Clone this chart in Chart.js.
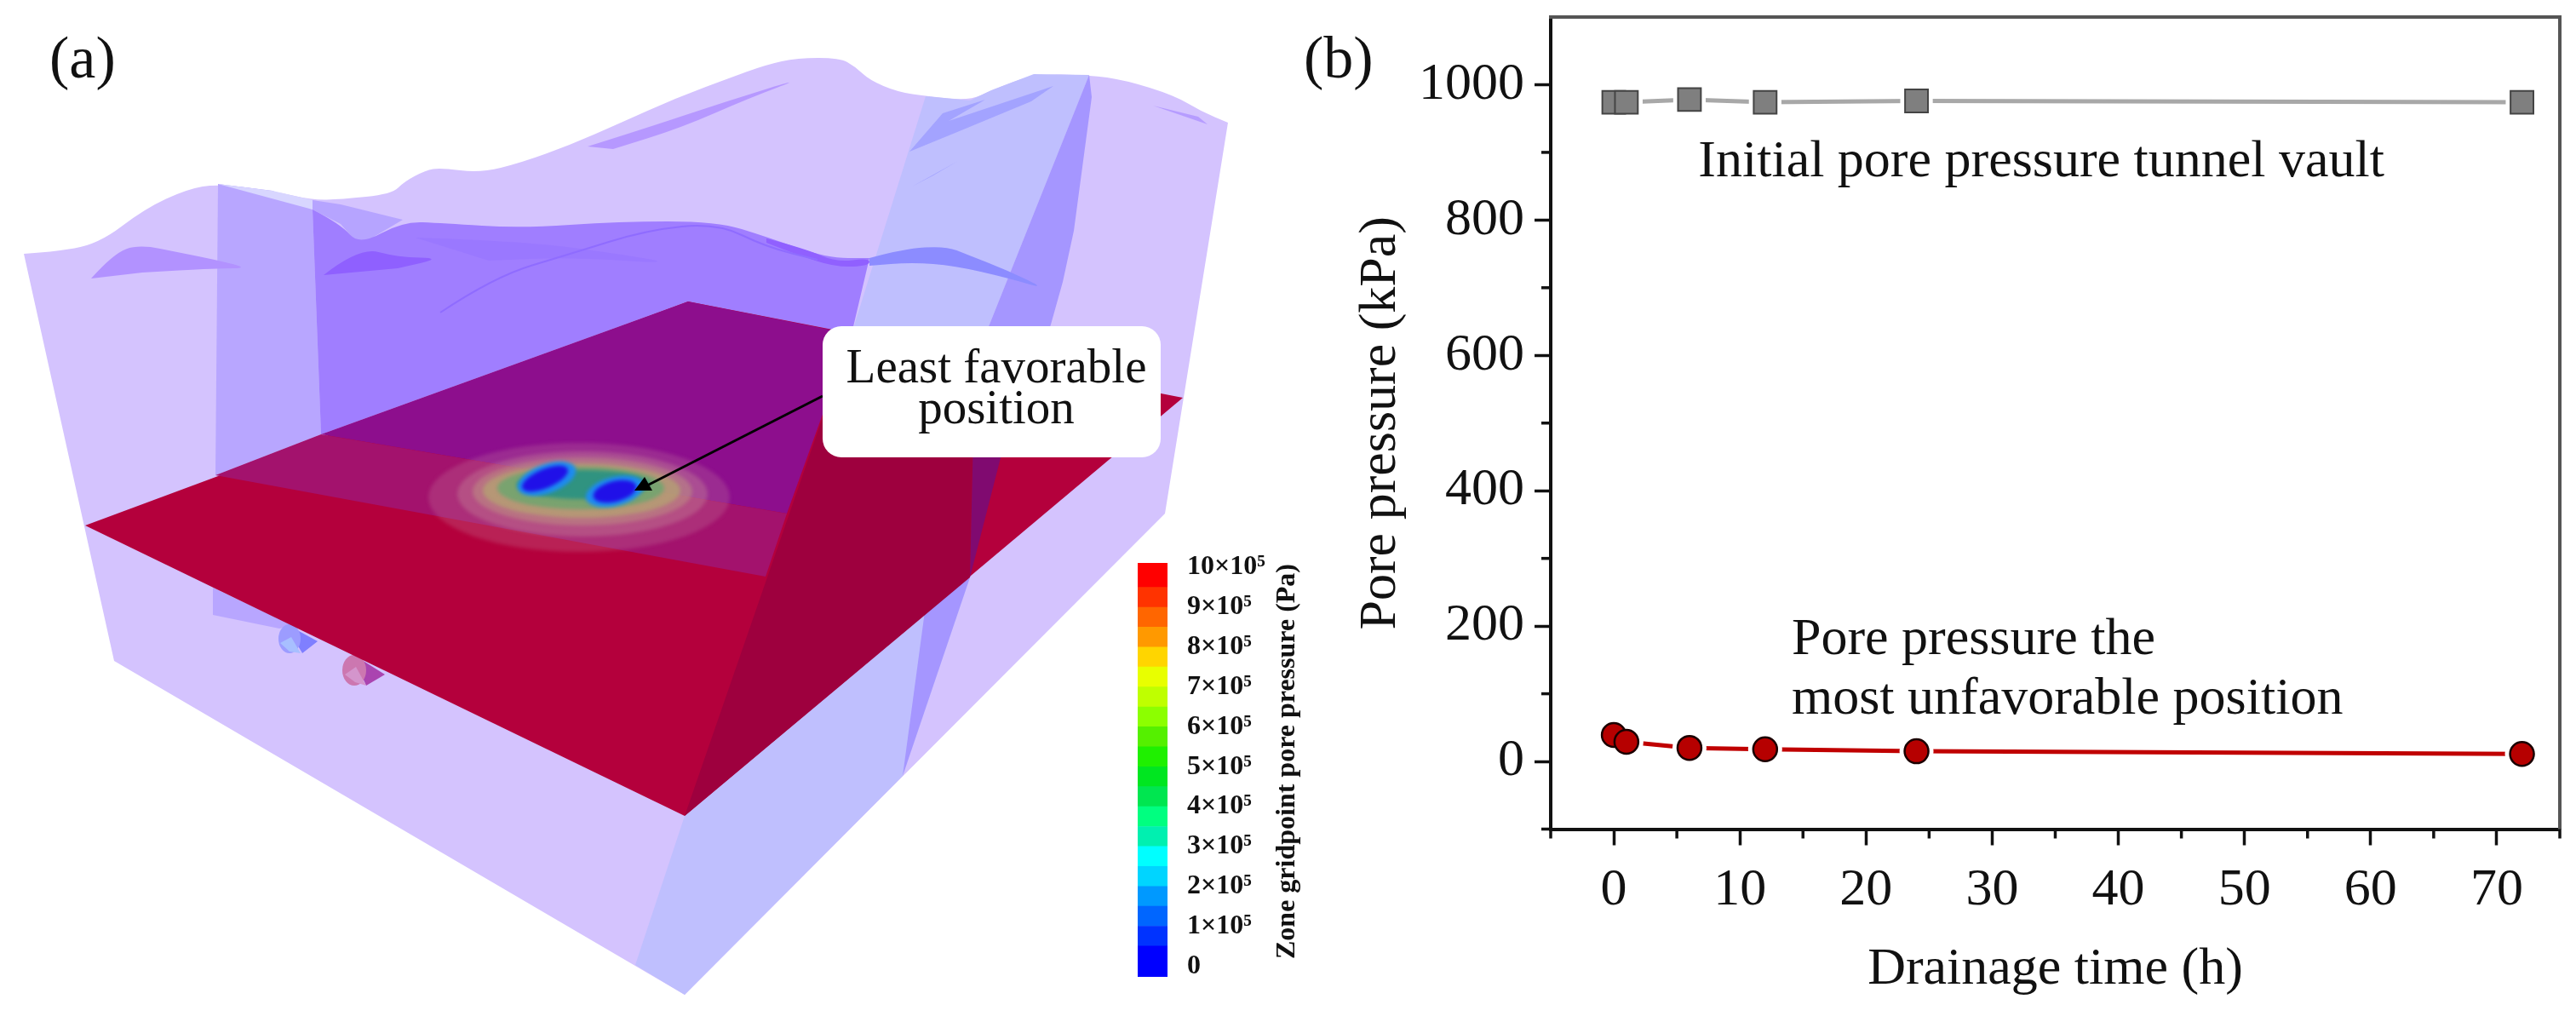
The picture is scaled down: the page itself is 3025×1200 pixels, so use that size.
<!DOCTYPE html>
<html>
<head>
<meta charset="utf-8">
<title>Pore pressure</title>
<script src="https://cdn.jsdelivr.net/npm/chart.js@4"></script>
<style>
    body { margin: 0; background: #fff; }
    #page { position: relative; width: 3025px; height: 1200px; overflow: hidden; }
    canvas { position: absolute; }
    .panel { position: absolute; top: 28px; font: 70px "Liberation Serif"; color: #111; }
</style>
</head>
<body>
<div id="page">
    <canvas id="sceneChart" width="1500" height="1200" style="left:0;top:0"></canvas>
    <canvas id="barChart" width="260" height="530" style="left:1300px;top:640px"></canvas>
    <canvas id="pressureChart" width="1465" height="1200" style="left:1560px;top:0"></canvas>
    <div class="panel" style="left:58px">(a)</div>
    <div class="panel" style="left:1531px">(b)</div>
</div>
<script>
// panel b data
const drainageHours = [0, 1, 6, 12, 24, 72];
const vaultPressure = [974, 974, 978, 974, 976, 974];
const unfavorablePressure = [39, 29, 20, 18, 15, 11];
const xTickValues = [0, 10, 20, 30, 40, 50, 60, 70];
const xMinorTicks = [-5, 5, 15, 25, 35, 45, 55, 65, 75];
const yTickValues = [0, 200, 400, 600, 800, 1000];
const yMinorTicks = [-100, 100, 300, 500, 700, 900];

// panel a colour bar
const barLabels = ["0", "1×10⁵", "2×10⁵", "3×10⁵", "4×10⁵", "5×10⁵", "6×10⁵", "7×10⁵", "8×10⁵", "9×10⁵", "10×10⁵"];
const barEdges = [-0.27, 0.5, 1, 1.5, 2, 2.5, 3, 3.5, 4, 4.5, 5, 5.5, 6, 6.5, 7, 7.5, 8, 8.5, 9, 9.5, 10.11];
const barColors = ["#0000ff", "#0033ff", "#0066ff", "#0099ff", "#00d5ff", "#00ffff", "#00f0b0", "#00ff80", "#00e650", "#00e620",
    "#1ff000", "#55f000", "#8cff00", "#bfff00", "#e8ff00", "#ffd500", "#ff9900", "#ff6600", "#ff3300", "#ff0000"];

// panel a outlines, in picture pixels
const ridgeLine = [[28,298],[60,296],[115,287],[170,245],[220,222],[256,216],[320,224],[367,235],[400,234],[460,228],[475,213],[500,200],[517,197],[564,203],[612,191],[670,170],[727,145],[794,115],[861,90],[900,76],[936,68],[986,68],[1004,78],[1021,94],[1054,108],[1089,113],[1139,118],[1164,106],[1214,87],[1279,88],[1321,94],[1379,112],[1411,131],[1442,144]];
const bodyEdge = [[1368,603],[804,1168],[134,776]];
const leftBand = [[256,216],[320,224],[367,246],[377,510],[253,558]];
const leftBandLow = [[250,690],[250,722],[328,738],[345,735]];
const paleStrip = [[256,216],[320,224],[367,235],[367,246]];
const midStrip = [[367,235],[400,240],[473,258],[422,288],[400,263],[367,246]];
const backTop = [[367,246],[400,263],[422,288],[473,260],[520,262],[612,268],[727,260],[842,260],[900,278],[971,303],[1021,303]];
const backLow = [[1000,392],[808,354],[377,510]];
const blueBand = [[1087,113],[1139,118],[1164,106],[1214,87],[1279,88],[1162,381],[1145,425],[1000,392]];
const blueBandLow = [[804,958],[746,1133],[804,1168],[1060,911],[1139,678]];
const darkBand = [[1279,88],[1282,114],[1261,271],[1248,331],[1234,381],[1200,470],[1141,425],[1162,381]];
const darkBandLow = [[1086,718],[1060,911],[1139,678]];
const streakA = [[107,327],[133,298],[163,287],[213,297],[253,305],[293,315],[253,315],[167,320]];
const streakB = [[380,323],[422,290],[467,302],[520,303],[467,315]];
const streakC = [[690,172],[760,150],[850,120],[947,90],[880,115],[800,150],[720,175]];
const streakD = [[488,279],[612,283],[727,298],[794,310],[670,302],[574,306]];
const streakE = [[1021,303],[1061,292],[1111,289],[1136,299],[1182,317],[1230,340],[1182,326],[1121,312],[1071,308],[1021,312]];
const streakF = [[900,280],[946,292],[982,308],[1021,303],[1021,312],[982,314],[936,299],[900,285]];
const streakG = [[1068,178],[1107,133],[1157,117],[1114,142],[1237,101],[1211,119],[1129,153]];
const streakH = [[1071,219],[1125,189],[1096,206]];
const streakI = [[1354,124],[1418,146],[1407,137]];
const waveLine = [[517,367],[580,325],[670,298],[760,270],[842,262],[900,290],[960,305]];
const plane = [[100,617],[808,354],[1389,467],[804,958]];
const planePurple = [[377,510],[808,354],[1000,392],[924,603]];
const planeStrip = [[253,558],[377,510],[924,603],[899,677]];
const planeDark = [[1000,392],[1145,425],[1139,678],[804,958]];
const planeDarkStrip = [[1145,425],[1200,440],[1139,678]];
const tunnelWedgeA = [[340,735],[373,753],[355,767],[345,750]];
const tunnelWedgeB = [[417,770],[452,792],[430,805],[422,787]];
const tunnelLightA = [[329,755],[342,748],[353,767],[340,765]];
const tunnelLightB = [[405,792],[418,783],[430,805],[417,801]];
// cx, cy, rx, ry, rotation, colour
const contours = [
    [680, 584, 177, 64, 0, "rgba(200,130,160,0.25)"],
    [684, 580, 147, 50, 0, "rgba(195,130,150,0.4)"],
    [684, 577, 129, 40, 0, "rgba(190,150,130,0.5)"],
    [683, 576, 116, 32, 0, "rgba(180,170,110,0.65)"],
    [682, 573, 98, 25, 0, "rgba(110,165,110,0.85)"],
    [685, 569, 78, 17, 0, "rgba(40,145,130,0.9)"],
    [642, 562, 36, 17, -0.35, "rgba(30,140,240,1)"],
    [722, 577, 35, 17, -0.25, "rgba(30,140,240,1)"],
    [640, 562, 29, 11, -0.4, "#2010e8"],
    [722, 577, 26, 12, -0.25, "#2010e8"]
];
const tunnels = [
    [340, 750, 13, 17, 0, "#9c9cff"],
    [416, 787, 14, 18, 0, "#cc77b0"]
];

const serif = '"Liberation Serif"';

function tracePath(ctx, chart, curved, straight) {
    const x = p => chart.scales.x.getPixelForValue(p[0]);
    const y = p => chart.scales.y.getPixelForValue(p[1]);
    ctx.beginPath();
    ctx.moveTo(x(curved[0]), y(curved[0]));
    for (let i = 1; i < curved.length - 1; i++) {
        const mx = (x(curved[i]) + x(curved[i + 1])) / 2;
        const my = (y(curved[i]) + y(curved[i + 1])) / 2;
        ctx.quadraticCurveTo(x(curved[i]), y(curved[i]), mx, my);
    }
    const last = curved[curved.length - 1];
    ctx.lineTo(x(last), y(last));
    (straight || []).forEach(p => ctx.lineTo(x(p), y(p)));
}

function fillStraight(ctx, chart, pts, color) {
    tracePath(ctx, chart, pts.slice(0, 1), pts.slice(1));
    ctx.closePath();
    ctx.fillStyle = color;
    ctx.fill();
}

function fillCurved(ctx, chart, pts, color) {
    tracePath(ctx, chart, pts);
    ctx.closePath();
    ctx.fillStyle = color;
    ctx.fill();
}

function fillEllipses(ctx, chart, list) {
    list.forEach(e => {
        ctx.beginPath();
        ctx.ellipse(chart.scales.x.getPixelForValue(e[0]), chart.scales.y.getPixelForValue(e[1]), e[2], e[3], e[4], 0, Math.PI * 2);
        ctx.fillStyle = e[5];
        ctx.fill();
    });
}

// the layout adds room for half a tick label at the axis ends, the picture has none
function noEndPadding(s) {
    s.paddingTop = 0;
    s.paddingBottom = 0;
    s.paddingLeft = 0;
    s.paddingRight = 0;
}

const scenePlugin = {
    id: "scene",
    beforeDatasetsDraw(chart) {
        const ctx = chart.ctx;
        ctx.save();
        tracePath(ctx, chart, ridgeLine, bodyEdge);
        ctx.closePath();
        ctx.fillStyle = "#d4c3fe";
        ctx.fill();

        fillStraight(ctx, chart, leftBand, "#b8a6ff");
        fillStraight(ctx, chart, leftBandLow, "#b8a6ff");
        fillStraight(ctx, chart, paleStrip, "#d8d6ff");
        fillStraight(ctx, chart, midStrip, "#b6a4ff");

        tracePath(ctx, chart, backTop, backLow);
        ctx.closePath();
        ctx.fillStyle = "#a07eff";
        ctx.fill();

        fillStraight(ctx, chart, blueBand, "#bfbffe");
        fillStraight(ctx, chart, blueBandLow, "#bfbffe");
        fillStraight(ctx, chart, darkBand, "#a596ff");
        fillStraight(ctx, chart, darkBandLow, "#a596ff");

        fillCurved(ctx, chart, streakA, "#b292ff");
        fillCurved(ctx, chart, streakB, "#8f60ff");
        fillCurved(ctx, chart, streakC, "#b698ff");
        fillCurved(ctx, chart, streakD, "#9a78ff");
        fillCurved(ctx, chart, streakE, "#8c8cff");
        fillCurved(ctx, chart, streakF, "#9060ff");
        fillStraight(ctx, chart, streakG, "#a3a3ff");
        fillStraight(ctx, chart, streakH, "#a3a3ff");
        fillStraight(ctx, chart, streakI, "#b69cff");

        tracePath(ctx, chart, waveLine);
        ctx.strokeStyle = "#8f6cff";
        ctx.lineWidth = 2;
        ctx.stroke();

        fillStraight(ctx, chart, tunnelWedgeA, "#7f7fff");
        fillStraight(ctx, chart, tunnelWedgeB, "#aa44b0");
        fillEllipses(ctx, chart, tunnels);
        fillStraight(ctx, chart, tunnelLightA, "#a8bfff");
        fillStraight(ctx, chart, tunnelLightB, "#d495cc");

        fillStraight(ctx, chart, plane, "#b4003c");
        fillStraight(ctx, chart, planePurple, "#8d0e8d");
        fillStraight(ctx, chart, planeStrip, "#a3126d");
        fillStraight(ctx, chart, planeDark, "#9e003e");
        fillStraight(ctx, chart, planeDarkStrip, "#800a70");

        ctx.filter = "blur(2px)";
        fillEllipses(ctx, chart, contours);
        ctx.filter = "none";

        // callout arrow
        const sx = chart.scales.x, sy = chart.scales.y;
        ctx.beginPath();
        ctx.moveTo(sx.getPixelForValue(966), sy.getPixelForValue(465));
        ctx.lineTo(sx.getPixelForValue(760), sy.getPixelForValue(570));
        ctx.strokeStyle = "#000";
        ctx.lineWidth = 3;
        ctx.stroke();
        ctx.beginPath();
        ctx.moveTo(sx.getPixelForValue(757), sy.getPixelForValue(560));
        ctx.lineTo(sx.getPixelForValue(745), sy.getPixelForValue(576));
        ctx.lineTo(sx.getPixelForValue(766), sy.getPixelForValue(576));
        ctx.closePath();
        ctx.fillStyle = "#000";
        ctx.fill();

        // callout box
        ctx.beginPath();
        ctx.roundRect(sx.getPixelForValue(966), sy.getPixelForValue(383), 397, 154, 22);
        ctx.fillStyle = "#fff";
        ctx.fill();
        ctx.fillStyle = "#111";
        ctx.font = "57px " + serif;
        ctx.textAlign = "center";
        ctx.fillText("Least favorable", sx.getPixelForValue(1170), sy.getPixelForValue(449));
        ctx.fillText("position", sx.getPixelForValue(1170), sy.getPixelForValue(497));
        ctx.restore();
    }
};

new Chart(document.getElementById("sceneChart"), {
    type: "scatter",
    data: { datasets: [] },
    options: {
        responsive: false,
        animation: false,
        devicePixelRatio: 1,
        plugins: { legend: { display: false }, tooltip: { enabled: false } },
        scales: {
            x: { display: false, min: 0, max: 1500 },
            y: { display: false, min: 0, max: 1200, reverse: true }
        }
    },
    plugins: [scenePlugin]
});

const barTitlePlugin = {
    id: "barTitle",
    afterDraw(chart) {
        const ctx = chart.ctx;
        ctx.save();
        ctx.translate(212, 254);
        ctx.rotate(-Math.PI / 2);
        ctx.font = "bold 32px " + serif;
        ctx.fillStyle = "#111";
        ctx.textAlign = "center";
        ctx.textBaseline = "middle";
        ctx.fillText("Zone gridpoint pore pressure (Pa)", 0, 0);
        ctx.restore();
    }
};

new Chart(document.getElementById("barChart"), {
    type: "bar",
    data: {
        labels: [""],
        datasets: barColors.map((color, i) => ({
            data: [[barEdges[i], barEdges[i + 1]]],
            backgroundColor: color,
            grouped: false,
            barPercentage: 1,
            categoryPercentage: 1
        }))
    },
    options: {
        responsive: false,
        animation: false,
        devicePixelRatio: 1,
        layout: { padding: { left: 36, top: 21, bottom: 23 } },
        plugins: { legend: { display: false }, tooltip: { enabled: false } },
        scales: {
            x: { display: false },
            y: {
                position: "right",
                min: barEdges[0],
                max: barEdges[barEdges.length - 1],
                grid: { display: false },
                border: { display: false },
                afterBuildTicks: s => { s.ticks = barLabels.map((_, i) => ({ value: i })); },
                afterFit: s => { s.width = 189; noEndPadding(s); },
                ticks: {
                    autoSkip: false,
                    padding: 15,
                    color: "#111",
                    font: { family: serif, size: 32, weight: "bold" },
                    callback: value => barLabels[value]
                }
            }
        }
    },
    plugins: [barTitlePlugin]
});

const pressurePlugin = {
    id: "pressureExtras",
    afterDraw(chart) {
        const ctx = chart.ctx, sx = chart.scales.x, sy = chart.scales.y, area = chart.chartArea;
        ctx.save();
        ctx.strokeStyle = "#111";
        ctx.lineWidth = 3.5;
        xMinorTicks.forEach(v => {
            ctx.beginPath();
            ctx.moveTo(sx.getPixelForValue(v), area.bottom);
            ctx.lineTo(sx.getPixelForValue(v), area.bottom + 11);
            ctx.stroke();
        });
        yMinorTicks.forEach(v => {
            ctx.beginPath();
            ctx.moveTo(area.left, sy.getPixelForValue(v));
            ctx.lineTo(area.left - 11, sy.getPixelForValue(v));
            ctx.stroke();
        });
        ctx.fillStyle = "#111";
        ctx.font = "62px " + serif;
        ctx.fillText("Initial pore pressure tunnel vault", sx.getPixelForValue(6.7), sy.getPixelForValue(865));
        ctx.fillText("Pore pressure the", sx.getPixelForValue(14.1), sy.getPixelForValue(159));
        ctx.fillText("most unfavorable position", sx.getPixelForValue(14.1), sy.getPixelForValue(70));
        ctx.restore();
    }
};

function axisOn(side) {
    return {
        display: true,
        position: side,
        min: side === "top" ? -5 : -100,
        max: side === "top" ? 75 : 1100,
        grid: { display: false },
        ticks: { display: false },
        border: { color: "#555", width: 4 },
        afterFit: s => {
            if (side === "top") s.height = 0; else s.width = 0;
            noEndPadding(s);
        }
    };
}

new Chart(document.getElementById("pressureChart"), {
    type: "scatter",
    data: {
        datasets: [
            {
                data: drainageHours.map((h, i) => ({ x: h, y: vaultPressure[i] })),
                showLine: false, order: 0, pointStyle: "rect", pointRadius: 19,
                backgroundColor: "#7f7f7f", borderColor: "#444", borderWidth: 2
            },
            {
                data: drainageHours.map((h, i) => ({ x: h, y: vaultPressure[i] })),
                showLine: false, order: 1, pointStyle: "rect", pointRadius: 27,
                backgroundColor: "#fff", borderWidth: 0
            },
            {
                data: drainageHours.map((h, i) => ({ x: h, y: vaultPressure[i] })),
                showLine: true, order: 2, pointRadius: 0, borderColor: "#a8a8a8", borderWidth: 5
            },
            {
                data: drainageHours.map((h, i) => ({ x: h, y: unfavorablePressure[i] })),
                showLine: false, order: 0, pointRadius: 14,
                backgroundColor: "#b60000", borderColor: "#1a0000", borderWidth: 2.5
            },
            {
                data: drainageHours.map((h, i) => ({ x: h, y: unfavorablePressure[i] })),
                showLine: false, order: 1, pointRadius: 20,
                backgroundColor: "#fff", borderWidth: 0
            },
            {
                data: drainageHours.map((h, i) => ({ x: h, y: unfavorablePressure[i] })),
                showLine: true, order: 2, pointRadius: 0, borderColor: "#c00000", borderWidth: 5
            }
        ]
    },
    options: {
        responsive: false,
        animation: false,
        devicePixelRatio: 1,
        layout: { autoPadding: false, padding: { top: 20, right: 19 } },
        plugins: { legend: { display: false }, tooltip: { enabled: false } },
        scales: {
            x: {
                min: -5,
                max: 75,
                grid: { display: true, drawOnChartArea: false, tickLength: 19, tickColor: "#111", tickWidth: 3.5 },
                border: { color: "#111", width: 4 },
                afterBuildTicks: s => { s.ticks = xTickValues.map(v => ({ value: v })); },
                afterFit: s => { s.height = 226.5; noEndPadding(s); },
                ticks: { padding: 16, color: "#111", maxRotation: 0, font: { family: serif, size: 62 }, callback: v => String(v) },
                title: {
                    display: true, text: "Drainage time (h)", color: "#111",
                    font: { family: serif, size: 62 }, padding: { top: 0, bottom: 24 }
                }
            },
            y: {
                min: -100,
                max: 1100,
                grid: { display: true, drawOnChartArea: false, tickLength: 19, tickColor: "#111", tickWidth: 3.5 },
                border: { color: "#111", width: 4 },
                afterBuildTicks: s => { s.ticks = yTickValues.map(v => ({ value: v })); },
                afterFit: s => { s.width = 261; noEndPadding(s); },
                ticks: { padding: 12, color: "#111", font: { family: serif, size: 62 }, callback: v => String(v) },
                title: {
                    display: true, text: "Pore pressure (kPa)", color: "#111",
                    font: { family: serif, size: 62 }, padding: { top: 25, bottom: 0 }
                }
            },
            xTop: axisOn("top"),
            yRight: axisOn("right")
        }
    },
    plugins: [pressurePlugin]
});
</script>
</body>
</html>
